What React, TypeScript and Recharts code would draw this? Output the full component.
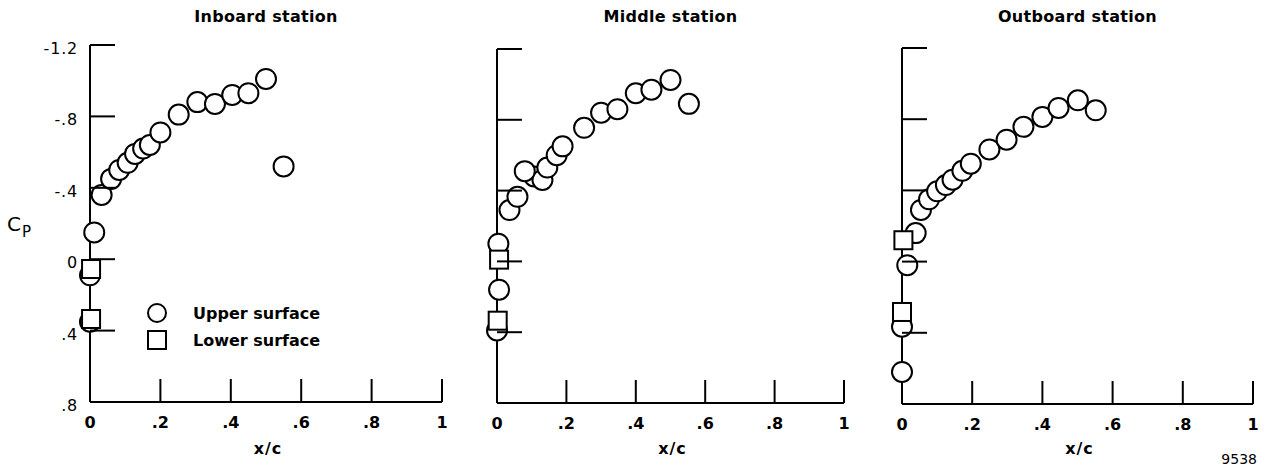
import React from "react";
import { Legend, Scatter, ScatterChart, XAxis, YAxis } from "recharts";

// chordwise stations, x/c vs Cp (negative Cp plotted upward)
const xTicks = [0, 0.2, 0.4, 0.6, 0.8, 1];
const cpTicks = [-1.2, -0.8, -0.4, 0, 0.4, 0.8];

const inboardUpper = [
  { x: 0, cp: 0.09 },
  { x: 0, cp: 0.35 },
  { x: 0.012, cp: -0.15 },
  { x: 0.033, cp: -0.36 },
  { x: 0.06, cp: -0.45 },
  { x: 0.083, cp: -0.5 },
  { x: 0.107, cp: -0.54 },
  { x: 0.128, cp: -0.59 },
  { x: 0.151, cp: -0.62 },
  { x: 0.17, cp: -0.64 },
  { x: 0.2, cp: -0.71 },
  { x: 0.252, cp: -0.81 },
  { x: 0.305, cp: -0.88 },
  { x: 0.355, cp: -0.87 },
  { x: 0.404, cp: -0.92 },
  { x: 0.45, cp: -0.93 },
  { x: 0.5, cp: -1.01 },
  { x: 0.55, cp: -0.52 }
];
const inboardLower = [
  { x: 0.003, cp: 0.055 },
  { x: 0.003, cp: 0.335 }
];

const middleUpper = [
  { x: 0.004, cp: -0.1 },
  { x: 0.006, cp: 0.16 },
  { x: 0, cp: 0.39 },
  { x: 0.036, cp: -0.29 },
  { x: 0.059, cp: -0.365 },
  { x: 0.107, cp: -0.48 },
  { x: 0.131, cp: -0.46 },
  { x: 0.08, cp: -0.51 },
  { x: 0.145, cp: -0.53 },
  { x: 0.172, cp: -0.6 },
  { x: 0.189, cp: -0.65 },
  { x: 0.251, cp: -0.755 },
  { x: 0.3, cp: -0.84 },
  { x: 0.347, cp: -0.86 },
  { x: 0.4, cp: -0.95 },
  { x: 0.445, cp: -0.97 },
  { x: 0.5, cp: -1.025 },
  { x: 0.553, cp: -0.89 }
];
const middleLower = [
  { x: 0.006, cp: -0.01 },
  { x: 0.002, cp: 0.335 }
];

const outboardUpper = [
  { x: 0, cp: 0.62 },
  { x: 0, cp: 0.366 },
  { x: 0.015, cp: 0.02 },
  { x: 0.039, cp: -0.16 },
  { x: 0.054, cp: -0.29 },
  { x: 0.077, cp: -0.35 },
  { x: 0.1, cp: -0.395 },
  { x: 0.125, cp: -0.43 },
  { x: 0.144, cp: -0.46 },
  { x: 0.172, cp: -0.51 },
  { x: 0.196, cp: -0.55 },
  { x: 0.249, cp: -0.63 },
  { x: 0.298, cp: -0.685 },
  { x: 0.346, cp: -0.757 },
  { x: 0.4, cp: -0.813 },
  { x: 0.446, cp: -0.863 },
  { x: 0.501, cp: -0.906 },
  { x: 0.552, cp: -0.85 }
];
const outboardLower = [
  { x: 0.004, cp: -0.12 },
  { x: 0, cp: 0.283 }
];

const H = 476;
const Y_AXIS_W = 30;
const X_AXIS_H = 30;
const FONT = "'DejaVu Sans', 'Liberation Sans', sans-serif";

const panels = [
  { title: "Inboard station", upper: inboardUpper, lower: inboardLower, left: 0, width: 460, plot: [90, 442, 45, 402], first: true },
  { title: "Middle station", upper: middleUpper, lower: middleLower, left: 460, width: 400, plot: [497, 844, 49, 403], first: false },
  { title: "Outboard station", upper: outboardUpper, lower: outboardLower, left: 860, width: 408, plot: [902, 1253, 48, 404], first: false }
];

const fmt = (v: number) => (v === 0 ? "0" : v === 1 ? "1" : String(v).replace("0.", "."));

function XTick({ x, y, payload }: any) {
  return (
    <g>
      {payload.value > 0 && <line x1={x} x2={x} y1={y} y2={y - 23} stroke="#000" strokeWidth={2} />}
      <text x={x} y={y + 26} textAnchor="middle" fontSize={16} fontWeight={700} fontFamily={FONT} fill="#000">
        {fmt(payload.value)}
      </text>
    </g>
  );
}

function YTick({ x, y, payload, showLabel }: any) {
  return (
    <g>
      <line x1={x} x2={x + 25} y1={y} y2={y} stroke="#000" strokeWidth={2} />
      {showLabel && (
        <text x={x - 12} y={y + 9} textAnchor="end" fontSize={16} fontFamily={FONT} fill="#000" letterSpacing={0.8}>
          {fmt(payload.value)}
        </text>
      )}
    </g>
  );
}

const circle = (p: any) => <circle cx={p.cx} cy={p.cy} r={10} fill="#fff" stroke="#000" strokeWidth={2} />;
const square = (p: any) => <rect x={p.cx - 9} y={p.cy - 9} width={18} height={18} fill="#fff" stroke="#000" strokeWidth={2} />;

function LegendKey({ payload }: any) {
  const items = [...(payload || [])].sort((a: any, b: any) => (a.value === "Upper surface" ? -1 : b.value === "Upper surface" ? 1 : 0));
  return (
    <svg width={220} height={52} style={{ display: "block" }}>
      {items.map((entry: any, i: number) => (
        <g key={entry.value}>
          {entry.value === "Upper surface" ? (
            <circle cx={12} cy={12 + i * 27} r={9} fill="#fff" stroke="#000" strokeWidth={2} />
          ) : (
            <rect x={3} y={30} width={18} height={18} fill="#fff" stroke="#000" strokeWidth={2} />
          )}
          <text x={48} y={18 + i * 27} fontSize={16} fontWeight={700} fontFamily={FONT} fill="#000">
            {entry.value}
          </text>
        </g>
      ))}
    </svg>
  );
}

function Panel({ title, upper, lower, left, width, plot, first }: any) {
  const [pl, pr, pt, pb] = plot;
  const center = (pl + pr) / 2 - left;
  return (
    <div style={{ position: "absolute", left, top: 0, width, height: H }}>
      <div style={{ position: "absolute", left: center - 100, width: 200, top: 7, textAlign: "center", fontFamily: FONT, fontWeight: 700, fontSize: 16, letterSpacing: 0.3 }}>
        {title}
      </div>
      <ScatterChart
        width={width}
        height={H}
        margin={{ left: pl - left - Y_AXIS_W, right: left + width - pr, top: pt, bottom: H - pb - X_AXIS_H }}
      >
        <XAxis
          type="number"
          dataKey="x"
          domain={[0, 1]}
          ticks={xTicks}
          interval={0}
          height={X_AXIS_H}
          tickSize={0}
          tickMargin={0}
          tickLine={false}
          axisLine={{ stroke: "#000", strokeWidth: 2 }}
          tick={<XTick />}
        />
        <YAxis
          type="number"
          dataKey="cp"
          domain={[-1.2, 0.8]}
          reversed
          ticks={cpTicks}
          interval={0}
          width={Y_AXIS_W}
          tickSize={0}
          tickMargin={0}
          tickLine={false}
          axisLine={{ stroke: "#000", strokeWidth: 2 }}
          tick={<YTick showLabel={first} />}
        />
        {first && (
          <Legend layout="vertical" align="center" verticalAlign="middle" content={<LegendKey />} wrapperStyle={{ left: 145, top: 301, width: 220 }} />
        )}
        <Scatter name="Upper surface" data={upper} shape={circle} legendType="circle" isAnimationActive={false} />
        <Scatter name="Lower surface" data={lower} shape={square} legendType="square" isAnimationActive={false} />
      </ScatterChart>
      <div style={{ position: "absolute", left: center - 38, width: 80, top: 439, textAlign: "center", fontFamily: FONT, fontWeight: 700, fontSize: 16, letterSpacing: 1 }}>
        x/c
      </div>
    </div>
  );
}

export default function App() {
  return (
    <div style={{ position: "absolute", left: 0, top: 0, width: 1268, height: H, background: "#fff", color: "#000" }}>
      {panels.map((p) => (
        <Panel key={p.title} {...p} />
      ))}
      <div style={{ position: "absolute", left: 7, top: 212, fontFamily: FONT, fontSize: 20, whiteSpace: "nowrap" }}>
        C<span style={{ fontSize: 15, position: "relative", top: 6, marginLeft: 1 }}>P</span>
      </div>
      <div style={{ position: "absolute", right: 11, top: 451, fontFamily: FONT, fontSize: 14 }}>9538</div>
    </div>
  );
}
